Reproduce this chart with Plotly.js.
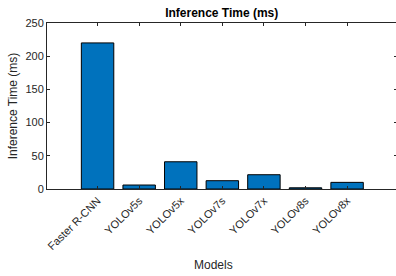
<!DOCTYPE html>
<html>
<head>
<meta charset="utf-8">
<script src="https://cdn.plot.ly/plotly-3.0.1.min.js"></script>
<style>html,body{margin:0;padding:0;background:#fff;overflow:hidden;}#chart{width:397px;height:276px;}</style>
</head>
<body>
<div id="chart"></div>
<script>
const models = ["Faster R-CNN", "YOLOv5s", "YOLOv5x", "YOLOv7s", "YOLOv7x", "YOLOv8s", "YOLOv8x"];
const inferenceTime = [220, 6, 41, 12.5, 21.5, 1.8, 10];
const yTicks = [0, 50, 100, 150, 200, 250];

const font = "Liberation Sans, Arial, Helvetica, sans-serif";
const ink = "#262626";

Plotly.newPlot("chart", [{
  type: "bar",
  x: models,
  y: inferenceTime,
  marker: {color: "#0072BD", line: {color: "#000000", width: 1}},
  hoverinfo: "none"
}], {
  width: 397, height: 276,
  margin: {l: 47, r: 0, t: 23, b: 87},
  paper_bgcolor: "#ffffff", plot_bgcolor: "#ffffff",
  bargap: 0.22,
  showlegend: false,
  font: {family: font, size: 11, color: ink},
  title: {text: "<b>Inference Time (ms)</b>", font: {family: font, size: 12, color: "#000"}, x: 0.5585, xanchor: "center", y: 0.953, yanchor: "middle"},
  xaxis: {
    type: "category",
    range: [-1.216, 7.2],
    tickangle: -45,
    ticks: "inside", ticklen: 3, tickcolor: ink,
    showline: true, linecolor: ink, linewidth: 1, mirror: "ticks",
    showgrid: false, zeroline: false,
    tickfont: {family: font, size: 11, color: ink},
    fixedrange: true
  },
  yaxis: {
    range: [0, 250],
    tickvals: yTicks,
    ticks: "inside", ticklen: 3, tickcolor: ink,
    showline: true, linecolor: ink, linewidth: 1, mirror: "ticks",
    showgrid: false, zeroline: false,
    tickfont: {family: font, size: 11, color: ink},
    title: {text: "Inference Time (ms)", font: {family: font, size: 12, color: ink}, standoff: 5},
    fixedrange: true
  },
  annotations: [{
    text: "Models", xref: "paper", yref: "paper",
    x: (213 - 47) / 350, y: -(265 - 189) / 166,
    xanchor: "center", yanchor: "middle", showarrow: false,
    font: {family: font, size: 12, color: ink}
  }]
}, {displayModeBar: false, staticPlot: true});
</script>
</body>
</html>
